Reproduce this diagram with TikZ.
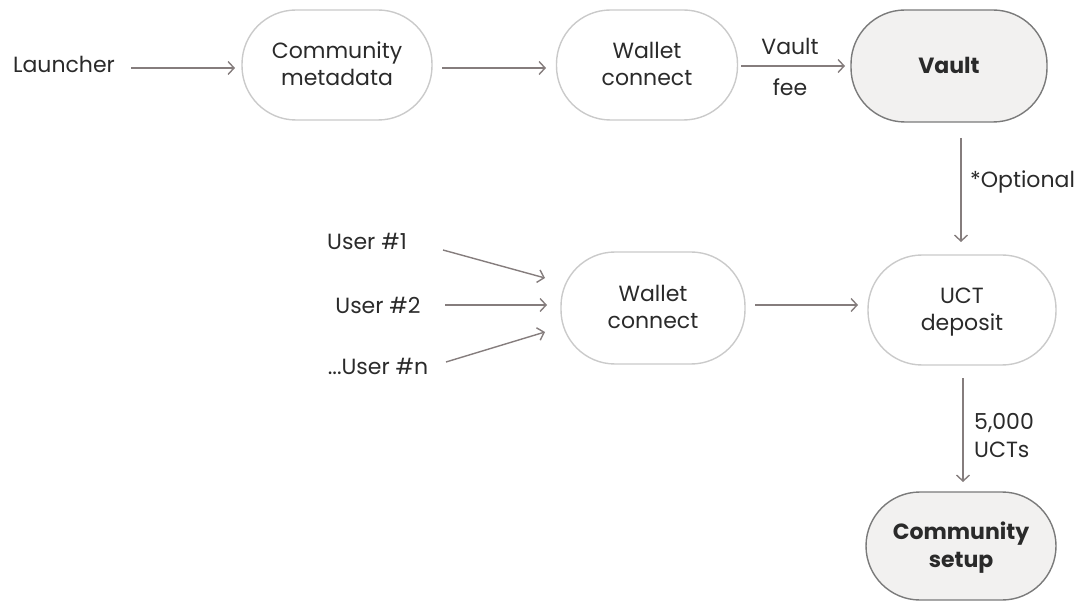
\documentclass[tikz,border=0pt]{standalone}
\usepackage{fontspec}
\setmainfont{Poppins}
\usetikzlibrary{arrows.meta}
\definecolor{txt}{HTML}{2A2A2A}
\definecolor{arr}{HTML}{857D7D}
\definecolor{lite}{HTML}{CACACA}
\definecolor{dark}{HTML}{7A7A7A}
\definecolor{fillg}{HTML}{F2F1F0}
\tikzset{
  pill/.style={draw=lite, line width=1.4pt, rounded corners=54pt, minimum height=110pt, align=center, text=txt, font=\fontsize{22}{27}\selectfont, inner sep=0pt, text depth=2pt},
  pillbold/.style={pill, draw=dark, fill=fillg, font=\fontsize{22}{28}\selectfont\bfseries},
  lbl/.style={text=txt, font=\fontsize{22}{27}\selectfont, inner sep=0pt},
  conn/.style={draw=arr, line width=1.4pt, -{Straight Barb[length=6pt,width=13pt,line width=1.4pt]}}
}
\begin{document}
\begin{tikzpicture}[x=1pt,y=-1pt]
\useasboundingbox (0,0) rectangle (1078,601);
\node[pill, minimum width=190pt] (cm) at (337,65) {Community\\metadata};
\node[pill, minimum width=181pt] (wc1) at (647,65) {Wallet\\connect};
\node[pillbold, minimum width=196pt, minimum height=112pt] (vault) at (949,66) {Vault};
\node[pill, minimum width=188pt] (uct) at (962,310) {UCT\\deposit};
\node[pill, minimum width=184pt, minimum height=112pt] (wc2) at (653,308) {Wallet\\connect};
\node[pillbold, minimum width=190pt, minimum height=108pt] (cs) at (961,546) {Community\\setup};

\node[lbl] (launch) at (64,64) {Launcher};
\node[lbl] (u1) at (367,241) {User \#1};
\node[lbl] (u2) at (378,305) {User \#2};
\node[lbl] (un) at (378,366) {...User \#n};

\coordinate (a1s) at (131,68); \coordinate (a1e) at (235,68);
\draw[conn] (a1s) -- (a1e);
\coordinate (a2s) at (442,68); \coordinate (a2e) at (546,68);
\draw[conn] (a2s) -- (a2e);
\coordinate (a3s) at (741,66); \coordinate (a3e) at (845,66);
\draw[conn] (a3s) -- (a3e);
\node[lbl] (vf1) at (790,46) {Vault};
\node[lbl] (vf2) at (790,87) {fee};
\coordinate (a4s) at (961,138); \coordinate (a4e) at (961,242);
\draw[conn] (a4s) -- (a4e);
\node[lbl, anchor=west] (opt) at (970,182) {*Optional};
\coordinate (b1s) at (443,250); \coordinate (b1e) at (545,278);
\draw[conn] (b1s) -- (b1e);
\coordinate (b2s) at (445,305); \coordinate (b2e) at (547,305);
\draw[conn] (b2s) -- (b2e);
\coordinate (b3s) at (446,362); \coordinate (b3e) at (545,332);
\draw[conn] (b3s) -- (b3e);
\coordinate (b4s) at (755,305); \coordinate (b4e) at (858,305);
\draw[conn] (b4s) -- (b4e);
\coordinate (b5s) at (963,378); \coordinate (b5e) at (963,482);
\draw[conn] (b5s) -- (b5e);
\node[lbl, anchor=west, align=left, font=\fontsize{22}{28}\selectfont] (ucts) at (974,436) {5,000\\UCTs};
\end{tikzpicture}
\end{document}
